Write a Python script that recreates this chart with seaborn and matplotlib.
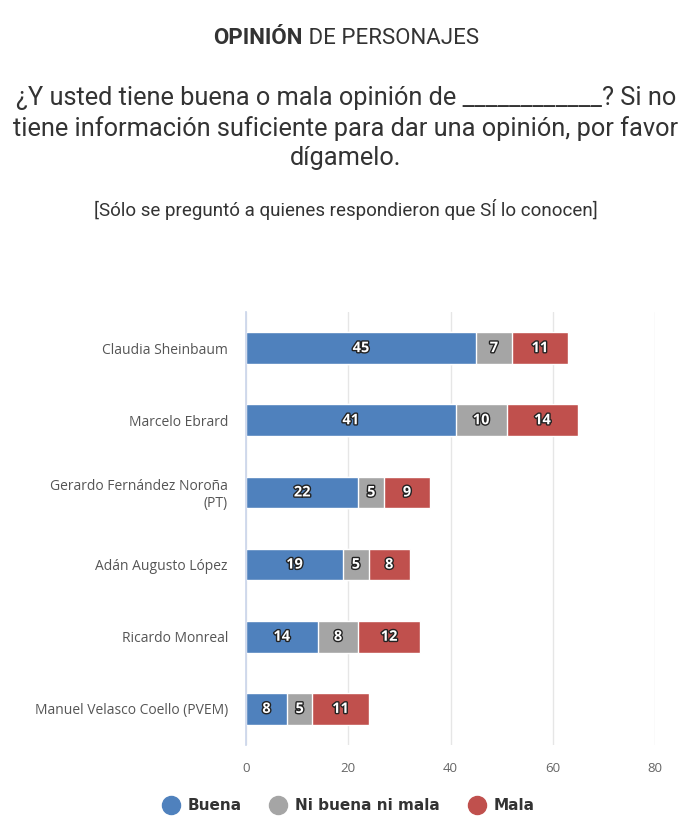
import matplotlib.patheffects as pe
import matplotlib.pyplot as plt
import pandas as pd
import seaborn as sns
from matplotlib.lines import Line2D

# Datos de la encuesta (porcentajes)
personajes = [
    "Claudia Sheinbaum",
    "Marcelo Ebrard",
    "Gerardo Fernández Noroña\n(PT)",
    "Adán Augusto López",
    "Ricardo Monreal",
    "Manuel Velasco Coello (PVEM)",
]
buena = [45, 41, 22, 19, 14, 8]
ni_buena_ni_mala = [7, 10, 5, 5, 8, 5]
mala = [11, 14, 9, 8, 12, 11]
series = ["Buena", "Ni buena ni mala", "Mala"]
colores = ["#4f81bd", "#a5a5a5", "#c0504d"]
x_ticks = [0, 20, 40, 60, 80]

df = pd.DataFrame(
    {"Personaje": personajes, "Buena": buena, "Ni buena ni mala": ni_buena_ni_mala, "Mala": mala}
)
cum = df[series].cumsum(axis=1)
starts = cum - df[series]

sns.set_theme(style="white")
plt.rcParams["font.family"] = ["Open Sans", "DejaVu Sans"]

W, H = 692, 833
fig = plt.figure(figsize=(W / 100, H / 100), dpi=100)
ax = fig.add_axes([246 / W, 1 - 745 / H, 409 / W, 433 / H])

# stacked bars: draw cumulative totals, longest first
for serie, color in reversed(list(zip(series, colores))):
    sns.barplot(
        x=cum[serie], y=df["Personaje"], color=color, saturation=1,
        width=0.44, edgecolor="white", linewidth=1, orient="h", ax=ax, zorder=3,
    )

# data labels
for i in range(len(df)):
    for serie in series:
        val = df.loc[i, serie]
        ax.text(
            starts.loc[i, serie] + val / 2, i, str(val),
            ha="center", va="center", color="white", fontsize=10.5, fontweight="bold",
            path_effects=[pe.withStroke(linewidth=2, foreground="#222222")], zorder=5,
        )

ax.set_xlim(0, 80)
ax.set_xticks(x_ticks)
ax.set_xlabel("")
ax.set_ylabel("")
ax.grid(axis="x", color="#e6e6e6", linewidth=1, zorder=0)
ax.set_axisbelow(True)
for s in ["top", "right", "bottom"]:
    ax.spines[s].set_visible(False)
ax.spines["left"].set_color("#ccd6eb")
ax.spines["left"].set_zorder(4)
ax.tick_params(axis="x", length=0, pad=12, labelsize=9.5, labelcolor="#666666")
ax.tick_params(axis="y", length=0, pad=13, labelsize=10, labelcolor="#555555")
for lbl in ax.get_yticklabels():
    lbl.set_linespacing(1.1)

# titles
renderer = fig.canvas.get_renderer()
y_t = 1 - 38 / H
t1 = fig.text(0, y_t, "OPINIÓN", fontsize=16, fontweight="bold", color="#333333",
              family="Roboto", va="center")
t2 = fig.text(0, y_t, " DE PERSONAJES", fontsize=16, color="#333333",
              family="Roboto", va="center")
w1 = t1.get_window_extent(renderer).width
w2 = t2.get_window_extent(renderer).width
x0 = (W - w1 - w2) / 2
t1.set_x(x0 / W)
t2.set_x((x0 + w1) / W)

fig.text(
    0.5, 1 - 128 / H,
    "¿Y usted tiene buena o mala opinión de ____________? Si no\n"
    "tiene información suficiente para dar una opinión, por favor\n"
    "dígamelo.",
    ha="center", va="center", fontsize=18.3, family="Roboto",
    color="#333333", linespacing=1.3,
)
fig.text(
    0.5, 1 - 210 / H, "[Sólo se preguntó a quienes respondieron que SÍ lo conocen]",
    ha="center", va="center", fontsize=13.5, family="Roboto",
    color="#333333",
)

handles = [
    Line2D([], [], marker="o", linestyle="", markersize=13, markerfacecolor=c,
           markeredgecolor=c, label=s)
    for s, c in zip(series, colores)
]
fig.legend(
    handles=handles, loc="center", bbox_to_anchor=(345 / W, 1 - 806 / H), ncol=3,
    frameon=False, handletextpad=0.1, columnspacing=1.4,
    prop={"family": "DejaVu Sans", "weight": "bold", "size": 11},
    labelcolor="#333333",
)

fig.savefig("out.png", dpi=100)
